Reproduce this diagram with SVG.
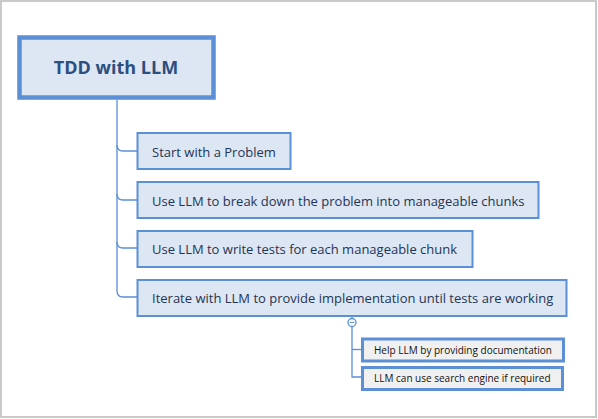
<svg xmlns="http://www.w3.org/2000/svg" width="598" height="419" viewBox="0 0 598 419">
<style>
.frame{fill:#fff;stroke:#c9c9c9;stroke-width:2}
.root{fill:#dde6f3;stroke:#5b8fd6;stroke-width:4.5}
.main{fill:#dde6f3;stroke:#5b8fd6;stroke-width:2}
.sub{fill:#f0f0f0;stroke:#5b8fd6;stroke-width:3}
.conn{fill:none;stroke:#5b8fd6;stroke-width:1.3}
.rt{font-family:"Open Sans","Noto Sans",sans-serif;font-weight:bold;font-size:18px;fill:#2a4f80}
.mt{font-family:"Open Sans","Noto Sans",sans-serif;font-size:13px;fill:#1f3556}
.st{font-family:"Open Sans","Noto Sans",sans-serif;font-size:10px;fill:#111}
</style>
<rect class="frame" x="1" y="1" width="595" height="416"/>
<g id="connectors">
<path class="conn" d="M117,100 V145 Q117,151 123,151 H137"/>
<path class="conn" d="M117,145 V194 Q117,200 123,200 H137"/>
<path class="conn" d="M117,194 V242 Q117,248 123,248 H137"/>
<path class="conn" d="M117,242 V291 Q117,297 123,297 H137"/>
<path class="conn" d="M352,316 V318.5"/>
<path class="conn" d="M352,326.5 V377 H362"/>
<path class="conn" d="M352,349.5 H362"/>
<circle cx="352" cy="322.5" r="4" fill="#fff" stroke="#5b8fd6" stroke-width="1.3"/>
<path d="M349.8,322.5 H354.2" stroke="#5b8fd6" stroke-width="1"/>
</g>
<g id="root">
<rect class="root" x="19.5" y="37.5" width="194" height="60"/>
<text class="rt" x="116" y="74" text-anchor="middle">TDD with LLM</text>
</g>
<g id="n1">
<rect class="main" x="137.5" y="133" width="153" height="36"/>
<text class="mt" x="152" y="156.5">Start with a Problem</text>
</g>
<g id="n2">
<rect class="main" x="137.5" y="182" width="401" height="36"/>
<text class="mt" x="152" y="205.5">Use LLM to break down the problem into manageable chunks</text>
</g>
<g id="n3">
<rect class="main" x="137.5" y="231" width="335" height="36"/>
<text class="mt" x="152" y="254">Use LLM to write tests for each manageable chunk</text>
</g>
<g id="n4">
<rect class="main" x="137.5" y="280" width="429" height="36"/>
<text class="mt" x="152" y="302.5">Iterate with LLM to provide implementation until tests are working</text>
</g>
<g id="s1">
<rect class="sub" x="362.5" y="339" width="201" height="22"/>
<text class="st" x="374" y="353.5">Help LLM by providing documentation</text>
</g>
<g id="s2">
<rect class="sub" x="362.5" y="367.5" width="200" height="22"/>
<text class="st" x="374" y="382">LLM can use search engine if required</text>
</g>
</svg>
